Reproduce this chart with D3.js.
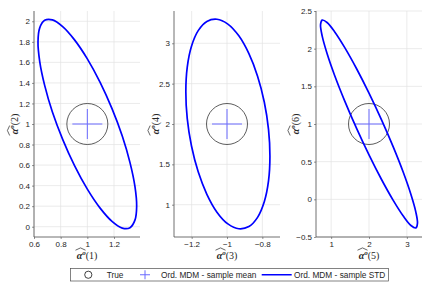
<!DOCTYPE html>
<html>
<head>
<meta charset="utf-8">
<script src="https://cdn.jsdelivr.net/npm/d3@7"></script>
<style>
  body { margin: 0; background: #fff; }
  svg { display: block; font-family: "Liberation Sans", Arial, sans-serif; }
</style>
</head>
<body>
<svg id="chart" width="432" height="288"></svg>
<script>
// true values and sample means, one entry per panel
const trueX = [1, -1, 2];
const trueY = [1, 2, 1];
const meanX = [1, -1, 2];
const meanY = [1, 2, 1];
const labelIdx = [[1, 2], [3, 4], [5, 6]];

// sample STD ellipses
const stdX1 = [1.370, 1.357, 1.320, 1.262, 1.185, 1.096, 1.000, 0.904, 0.815, 0.738, 0.680, 0.643,
               0.630, 0.643, 0.680, 0.738, 0.815, 0.904, 1.000, 1.096, 1.185, 1.262, 1.320, 1.357];
const stdY1 = [0.200, 0.064, -0.009, -0.013, 0.052, 0.181, 0.366, 0.595, 0.851, 1.117, 1.376, 1.608,
               1.800, 1.936, 2.009, 2.013, 1.948, 1.819, 1.634, 1.405, 1.149, 0.883, 0.624, 0.392];
const stdX2 = [-0.757, -0.765, -0.789, -0.827, -0.876, -0.933, -0.995, -1.057, -1.114, -1.163, -1.201, -1.225,
               -1.233, -1.225, -1.201, -1.163, -1.114, -1.057, -0.995, -0.933, -0.876, -0.827, -0.789, -0.765];
const stdY2 = [1.600, 1.294, 1.036, 0.843, 0.729, 0.702, 0.762, 0.908, 1.129, 1.407, 1.727, 2.066,
               2.400, 2.706, 2.964, 3.157, 3.271, 3.298, 3.238, 3.092, 2.871, 2.593, 2.273, 1.934];
const stdX3 = [3.280, 3.236, 3.108, 2.905, 2.640, 2.331, 2.000, 1.669, 1.360, 1.095, 0.892, 0.764,
               0.720, 0.764, 0.892, 1.095, 1.360, 1.669, 2.000, 2.331, 2.640, 2.905, 3.108, 3.236];
const stdY3 = [-0.318, -0.379, -0.347, -0.222, -0.014, 0.263, 0.590, 0.945, 1.304, 1.641, 1.936, 2.166,
               2.318, 2.379, 2.347, 2.222, 2.014, 1.737, 1.410, 1.055, 0.696, 0.359, 0.064, -0.166];

// axis limits and ticks
const xDomains = [[0.6, 1.395], [-1.3, -0.7], [0.6, 3.4]];
const yDomains = [[-0.1, 2.1], [0.6, 3.4], [-0.5, 2.5]];
const xTicks = [[0.6, 0.8, 1, 1.2], [-1.2, -1, -0.8], [1, 2, 3]];
const yTicks = [[0, 0.2, 0.4, 0.6, 0.8, 1, 1.2, 1.4, 1.6, 1.8, 2],
                [1, 1.5, 2, 2.5, 3],
                [-0.5, 0, 0.5, 1, 1.5, 2, 2.5]];

const legendNames = ["True", "Ord. MDM - sample mean", "Ord. MDM - sample STD"];

const stdX = [stdX1, stdX2, stdX3];
const stdY = [stdY1, stdY2, stdY3];

const svg = d3.select("#chart");
const lefts = [34, 174, 316];
const axW = 106, axTop = 11, axBot = 237;
const ylabOff = [16, 15.5, 17.5];
const axisCol = "#4d4d4d", gridCol = "#e3e3e3", textCol = "#262626";

// \widehat{alpha^o}(k) drawn as real text plus a hat stroke
function mathLabel(g, k) {
    const t = g.append("text")
        .attr("font-family", "'Liberation Serif', 'DejaVu Serif', serif")
        .attr("font-size", 10)
        .attr("fill", textCol)
        .attr("text-anchor", "middle");
    t.append("tspan").attr("font-style", "italic").attr("font-weight", "bold").text("α");
    t.append("tspan").attr("font-style", "italic").attr("font-weight", "bold")
        .attr("font-size", 7).attr("dy", -3.8).text("o");
    t.append("tspan").attr("dy", 3.8).text("(" + k + ")");
    // hat over alpha^o
    g.append("path")
        .attr("d", "M-11.5,-8.3 L-6.5,-10.6 L-1.5,-8.3")
        .attr("fill", "none")
        .attr("stroke", textCol)
        .attr("stroke-width", 0.7);
}

for (let p = 0; p < 3; p++) {
    const x = d3.scaleLinear().domain(xDomains[p]).range([lefts[p], lefts[p] + axW]);
    const y = d3.scaleLinear().domain(yDomains[p]).range([axBot, axTop]);
    const g = svg.append("g");

    // grid
    g.selectAll(".gx").data(xTicks[p]).enter().append("line")
        .attr("x1", d => x(d)).attr("x2", d => x(d))
        .attr("y1", axTop).attr("y2", axBot)
        .attr("stroke", gridCol).attr("stroke-width", 0.7);
    g.selectAll(".gy").data(yTicks[p]).enter().append("line")
        .attr("x1", lefts[p]).attr("x2", lefts[p] + axW)
        .attr("y1", d => y(d)).attr("y2", d => y(d))
        .attr("stroke", gridCol).attr("stroke-width", 0.7);

    // axes
    const xa = g.append("g").attr("transform", "translate(0," + axBot + ")")
        .call(d3.axisBottom(x).tickValues(xTicks[p]).tickSize(2).tickPadding(2).tickFormat(d3.format("")));
    const ya = g.append("g").attr("transform", "translate(" + lefts[p] + ",0)")
        .call(d3.axisLeft(y).tickValues(yTicks[p]).tickSize(2).tickPadding(2).tickFormat(d3.format("")));
    [xa, ya].forEach(a => {
        a.select(".domain").attr("stroke", axisCol).attr("stroke-width", 0.8)
            .attr("d", a === xa ? "M" + lefts[p] + ",0H" + (lefts[p] + axW) : "M0," + axTop + "V" + axBot);
        a.selectAll(".tick line").attr("stroke", axisCol).attr("stroke-width", 0.6);
        a.selectAll(".tick text").attr("fill", textCol).attr("font-size", 8)
            .attr("font-family", "'Liberation Sans', Arial, sans-serif");
    });

    // true value marker
    g.append("circle")
        .attr("cx", x(trueX[p])).attr("cy", y(trueY[p])).attr("r", 20.5)
        .attr("fill", "none").attr("stroke", "#333").attr("stroke-width", 0.8);

    // sample mean marker
    const mx = x(meanX[p]), my = y(meanY[p]);
    g.append("path")
        .attr("d", "M" + (mx - 15) + "," + my + "H" + (mx + 15) + "M" + mx + "," + (my - 15) + "V" + (my + 15))
        .attr("stroke", "#6a6aff").attr("stroke-width", 1).attr("fill", "none");

    // sample STD ellipse
    const pts = stdX[p].map((v, i) => [v, stdY[p][i]]);
    g.append("path").datum(pts)
        .attr("d", d3.line().x(d => x(d[0])).y(d => y(d[1])).curve(d3.curveCatmullRomClosed))
        .attr("fill", "none").attr("stroke", "#0000ff").attr("stroke-width", 1.7);

    // labels
    const cx = lefts[p] + axW / 2;
    mathLabel(svg.append("g").attr("transform", "translate(" + cx + ",258.5)"), labelIdx[p][0]);
    mathLabel(svg.append("g").attr("transform",
        "translate(" + (lefts[p] - ylabOff[p]) + "," + ((axTop + axBot) / 2) + ") rotate(-90)"), labelIdx[p][1]);
}

// legend
const lg = svg.append("g");
lg.append("rect").attr("x", 70.5).attr("y", 268.5).attr("width", 318).attr("height", 12.5)
    .attr("fill", "#fff").attr("stroke", axisCol).attr("stroke-width", 0.7);
const ly = 274.75;
lg.append("circle").attr("cx", 88.3).attr("cy", ly).attr("r", 3.6)
    .attr("fill", "none").attr("stroke", "#111").attr("stroke-width", 0.8);
lg.append("path").attr("d", "M140," + ly + "H150M145," + (ly - 4.5) + "V" + (ly + 4.5))
    .attr("stroke", "#6a6aff").attr("stroke-width", 1);
lg.append("line").attr("x1", 261.7).attr("x2", 291.7).attr("y1", ly).attr("y2", ly)
    .attr("stroke", "#0000ff").attr("stroke-width", 1.5);
const lx = [106.7, 161, 294];
lg.selectAll(".lt").data(legendNames).enter().append("text")
    .attr("x", (d, i) => lx[i]).attr("y", ly + 3)
    .attr("font-size", 8.3).attr("fill", textCol)
    .text(d => d);
</script>
</body>
</html>
